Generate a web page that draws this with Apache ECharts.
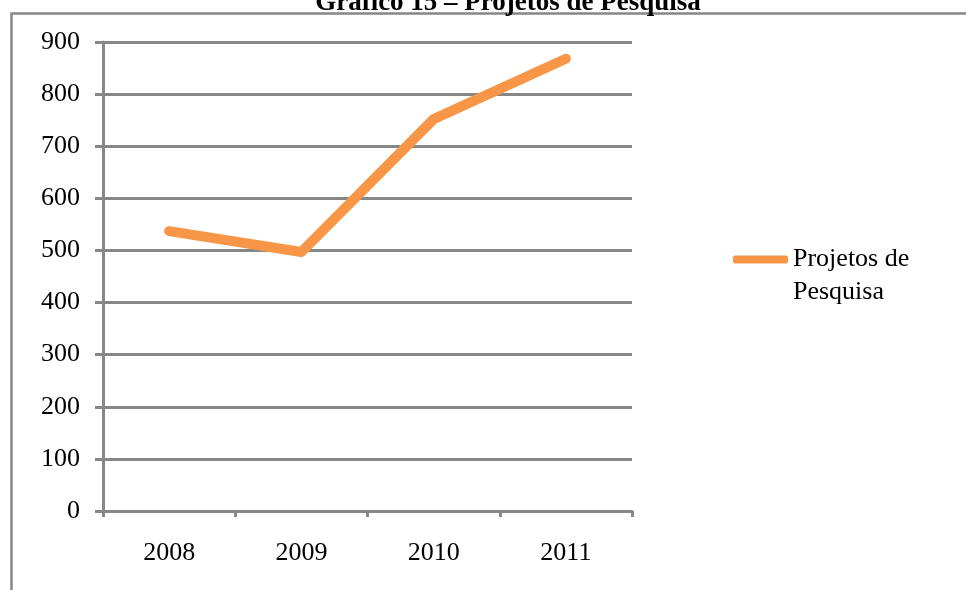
<!DOCTYPE html>
<html>
<head>
    <meta charset="utf-8">
    <script src="https://cdn.jsdelivr.net/npm/echarts@6/dist/echarts.min.js"></script>
    <style>
        body { margin: 0; background: #fff; }
        #main { width: 966px; height: 590px; }
    </style>
</head>
<body>
<div id="main"></div>
<script>
    // valores
    var anos = ['2008', '2009', '2010', '2011'];
    var projetos = [537, 497, 752, 868];
    var nomeSerie = 'Projetos de Pesquisa';

    var cinza = '#878787';
    var laranja = '#F79646';
    var fonte = 'Liberation Serif';

    var chart = echarts.init(document.getElementById('main'));
    chart.setOption({
        backgroundColor: '#fff',
        animation: false,
        title: {
            text: 'Gráfico 15 – Projetos de Pesquisa',
            left: 503,
            textAlign: 'center',
            top: -15,
            textStyle: { fontFamily: fonte, fontSize: 27, fontWeight: 'bold', color: '#000' }
        },
        graphic: [{
            type: 'polyline',
            shape: { points: [[11.5, 590], [11.5, 13.5], [966, 13.5]] },
            style: { stroke: cinza, lineWidth: 2.5, fill: null },
            silent: true
        }],
        legend: {
            left: 733,
            top: 210,
            padding: 0,
            itemWidth: 55,
            itemHeight: 8,
            itemGap: 0,
            icon: 'roundRect',
            // linha vazia no início para alinhar "Projetos de" com o ícone
            formatter: function () { return '\nProjetos de\nPesquisa'; },
            textStyle: { fontFamily: fonte, fontSize: 26, color: '#000', lineHeight: 33 },
            data: [nomeSerie]
        },
        grid: { left: 103, right: 334, top: 42, bottom: 79 },
        xAxis: {
            type: 'category',
            data: anos,
            boundaryGap: true,
            axisLine: { show: true, lineStyle: { color: cinza, width: 3 } },
            axisTick: { show: true, length: 6, lineStyle: { color: cinza, width: 3 } },
            axisLabel: { fontFamily: fonte, fontSize: 26, color: '#000', margin: 29 },
            splitLine: { show: false }
        },
        yAxis: {
            type: 'value',
            min: 0,
            max: 900,
            interval: 100,
            axisLine: { show: true, lineStyle: { color: cinza, width: 3 } },
            axisTick: { show: true, length: 8, lineStyle: { color: cinza, width: 3 } },
            axisLabel: { fontFamily: fonte, fontSize: 26, color: '#000', margin: 23 },
            splitLine: { show: true, lineStyle: { color: cinza, width: 3 } }
        },
        series: [{
            name: nomeSerie,
            type: 'line',
            data: projetos,
            symbol: 'none',
            color: laranja,
            lineStyle: { color: laranja, width: 10, cap: 'round', join: 'round' }
        }]
    });
</script>
</body>
</html>
